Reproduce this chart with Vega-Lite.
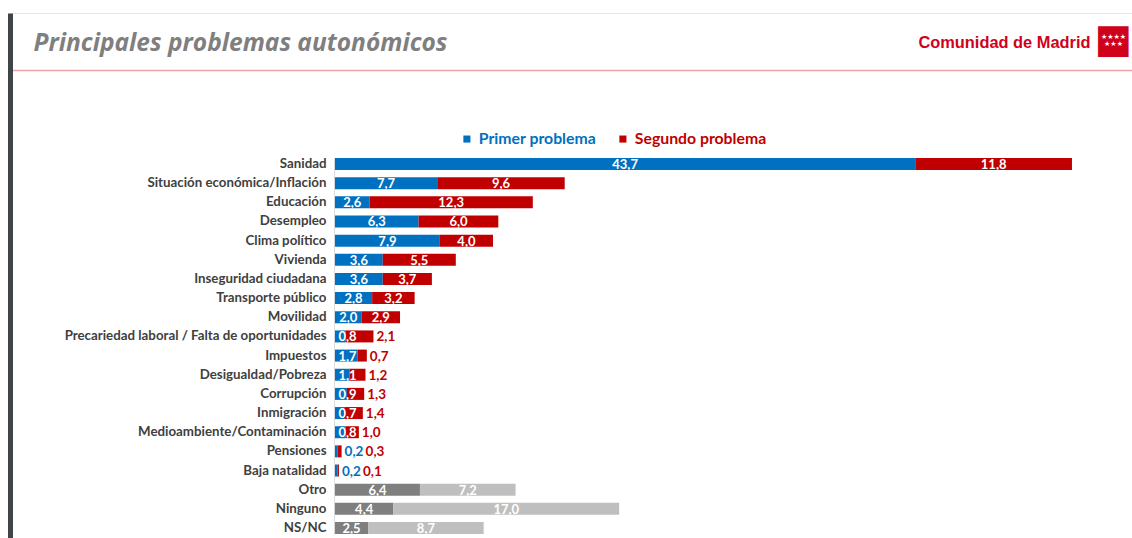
{
  "$schema": "https://vega.github.io/schema/vega-lite/v6.json",
  "width": 1122,
  "height": 525,
  "autosize": {"type": "none"},
  "padding": {"left": 10, "top": 13, "right": 0, "bottom": 0},
  "background": "white",
  "config": {
    "view": {"stroke": null},
    "font": "Lato",
    "axis": {"labels": false, "ticks": false, "grid": false, "domain": false},
    "locale": {"number": {"decimal": ",", "thousands": ".", "grouping": [3], "currency": ["", " €"]}}
  },
  "data": {
    "values": [
      {"cat": "Sanidad", "serie": "Primer problema", "value": 43.7},
      {"cat": "Sanidad", "serie": "Segundo problema", "value": 11.8},
      {"cat": "Situación económica/Inflación", "serie": "Primer problema", "value": 7.7},
      {"cat": "Situación económica/Inflación", "serie": "Segundo problema", "value": 9.6},
      {"cat": "Educación", "serie": "Primer problema", "value": 2.6},
      {"cat": "Educación", "serie": "Segundo problema", "value": 12.3},
      {"cat": "Desempleo", "serie": "Primer problema", "value": 6.3},
      {"cat": "Desempleo", "serie": "Segundo problema", "value": 6.0},
      {"cat": "Clima político", "serie": "Primer problema", "value": 7.9},
      {"cat": "Clima político", "serie": "Segundo problema", "value": 4.0},
      {"cat": "Vivienda", "serie": "Primer problema", "value": 3.6},
      {"cat": "Vivienda", "serie": "Segundo problema", "value": 5.5},
      {"cat": "Inseguridad ciudadana", "serie": "Primer problema", "value": 3.6},
      {"cat": "Inseguridad ciudadana", "serie": "Segundo problema", "value": 3.7},
      {"cat": "Transporte público", "serie": "Primer problema", "value": 2.8},
      {"cat": "Transporte público", "serie": "Segundo problema", "value": 3.2},
      {"cat": "Movilidad", "serie": "Primer problema", "value": 2.0},
      {"cat": "Movilidad", "serie": "Segundo problema", "value": 2.9},
      {"cat": "Precariedad laboral / Falta de oportunidades", "serie": "Primer problema", "value": 0.8},
      {"cat": "Precariedad laboral / Falta de oportunidades", "serie": "Segundo problema", "value": 2.1},
      {"cat": "Impuestos", "serie": "Primer problema", "value": 1.7},
      {"cat": "Impuestos", "serie": "Segundo problema", "value": 0.7},
      {"cat": "Desigualdad/Pobreza", "serie": "Primer problema", "value": 1.1},
      {"cat": "Desigualdad/Pobreza", "serie": "Segundo problema", "value": 1.2},
      {"cat": "Corrupción", "serie": "Primer problema", "value": 0.9},
      {"cat": "Corrupción", "serie": "Segundo problema", "value": 1.3},
      {"cat": "Inmigración", "serie": "Primer problema", "value": 0.7},
      {"cat": "Inmigración", "serie": "Segundo problema", "value": 1.4},
      {"cat": "Medioambiente/Contaminación", "serie": "Primer problema", "value": 0.8},
      {"cat": "Medioambiente/Contaminación", "serie": "Segundo problema", "value": 1.0},
      {"cat": "Pensiones", "serie": "Primer problema", "value": 0.2},
      {"cat": "Pensiones", "serie": "Segundo problema", "value": 0.3},
      {"cat": "Baja natalidad", "serie": "Primer problema", "value": 0.2},
      {"cat": "Baja natalidad", "serie": "Segundo problema", "value": 0.1},
      {"cat": "Otro", "serie": "Primer problema", "value": 6.4},
      {"cat": "Otro", "serie": "Segundo problema", "value": 7.2},
      {"cat": "Ninguno", "serie": "Primer problema", "value": 4.4},
      {"cat": "Ninguno", "serie": "Segundo problema", "value": 17.0},
      {"cat": "NS/NC", "serie": "Primer problema", "value": 2.5},
      {"cat": "NS/NC", "serie": "Segundo problema", "value": 8.7}
    ]
  },
  "resolve": {"scale": {"y": "independent"}, "axis": {"y": "independent"}},
  "layer": [
    {
      "layer": [
        {
          "mark": {"type": "bar"},
          "encoding": {
            "y": {
              "field": "cat", "type": "nominal",
              "sort": ["Sanidad", "Situación económica/Inflación", "Educación", "Desempleo", "Clima político", "Vivienda", "Inseguridad ciudadana", "Transporte público", "Movilidad", "Precariedad laboral / Falta de oportunidades", "Impuestos", "Desigualdad/Pobreza", "Corrupción", "Inmigración", "Medioambiente/Contaminación", "Pensiones", "Baja natalidad", "Otro", "Ninguno", "NS/NC"],
              "scale": {"paddingInner": 0.374, "paddingOuter": 0, "range": [145, 521]},
              "axis": {
                "orient": "left",
                "domain": false,
                "ticks": false, "tickSize": 0, "labels": true,
                "labelPadding": -316, "labelAlign": "right", "labelLimit": 500,
                "labelFont": "Lato", "labelFontWeight": "bold", "labelFontSize": 13.3, "labelColor": "#404040",
                "grid": false,
                "title": "■",
                "titleAngle": 0, "titleX": 1103, "titleY": 26, "titleAlign": "center", "titleBaseline": "middle",
                "titleFont": "DejaVu Sans", "titleFontSize": 40, "titleFontWeight": "normal", "titleColor": "#D0021B"
              }
            },
            "x": {
              "field": "value", "type": "quantitative", "stack": "zero",
              "scale": {"domain": [-24.47, 60.02], "nice": false, "zero": false},
              "axis": {
                "orient": "top", "offset": 0,
                "domain": true, "domainColor": "#E6E6E6", "domainWidth": 1,
                "ticks": false, "labels": false, "grid": false,
                "title": "Principales problemas autonómicos",
                "titleX": 23, "titleY": 37, "titleAlign": "left", "titleAnchor": null, "titleBaseline": "alphabetic",
                "titleFont": "Open Sans", "titleFontSize": 24.5, "titleFontWeight": "bold", "titleFontStyle": "italic", "titleColor": "#7F7F7F"
              }
            },
            "color": {
              "field": "serie", "type": "nominal",
              "scale": {"domain": ["Primer problema", "Segundo problema"], "range": ["#0070C0", "#C00000"]},
              "condition": [
                {"test": "indexof(['Otro','Ninguno','NS/NC'], datum.cat) >= 0 && datum.serie === 'Primer problema'", "value": "#7F7F7F"},
                {"test": "indexof(['Otro','Ninguno','NS/NC'], datum.cat) >= 0", "value": "#BFBFBF"}
              ],
              "legend": {
                "orient": "none", "legendX": 449, "legendY": 118, "direction": "horizontal",
                "title": null, "symbolType": "square", "symbolSize": 50, "symbolStrokeWidth": 0,
                "labelFont": "Lato", "labelFontSize": 15.8, "labelFontWeight": "bold",
                "columnPadding": 18, "padding": 0, "labelOffset": 4,
                "encode": {"labels": {"update": {"fill": {"signal": "datum.value === 'Primer problema' ? '#0070C0' : '#C00000'"}}}}
              }
            }
          }
        },
        {
          "transform": [
            {"stack": "value", "groupby": ["cat"], "sort": [{"field": "serie"}], "as": ["x0", "x1"]},
            {"filter": "datum.serie === 'Primer problema' ? datum.value >= 1.9 : datum.value >= 2.5"},
            {"fold": ["x0", "x1"], "as": ["k", "pos"]},
            {"aggregate": [{"op": "mean", "field": "pos", "as": "mid"}], "groupby": ["cat", "serie", "value"]}
          ],
          "mark": {"type": "text", "color": "white", "font": "Lato", "fontWeight": "bold", "fontSize": 13, "baseline": "middle", "align": "center", "dy": 1},
          "encoding": {
            "y": {"field": "cat", "type": "nominal", "axis": null, "sort": ["Sanidad", "Situación económica/Inflación", "Educación", "Desempleo", "Clima político", "Vivienda", "Inseguridad ciudadana", "Transporte público", "Movilidad", "Precariedad laboral / Falta de oportunidades", "Impuestos", "Desigualdad/Pobreza", "Corrupción", "Inmigración", "Medioambiente/Contaminación", "Pensiones", "Baja natalidad", "Otro", "Ninguno", "NS/NC"]},
            "x": {"field": "mid", "type": "quantitative", "axis": null},
            "text": {"field": "value", "type": "quantitative", "format": ".1f"}
          }
        },
        {
          "transform": [
            {"filter": "datum.serie === 'Primer problema' && datum.value >= 0.5 && datum.value < 1.9"}
          ],
          "mark": {"type": "text", "color": "white", "font": "Lato", "fontWeight": "bold", "fontSize": 13, "baseline": "middle", "align": "center", "dy": 1},
          "encoding": {
            "y": {"field": "cat", "type": "nominal", "axis": null, "sort": ["Sanidad", "Situación económica/Inflación", "Educación", "Desempleo", "Clima político", "Vivienda", "Inseguridad ciudadana", "Transporte público", "Movilidad", "Precariedad laboral / Falta de oportunidades", "Impuestos", "Desigualdad/Pobreza", "Corrupción", "Inmigración", "Medioambiente/Contaminación", "Pensiones", "Baja natalidad", "Otro", "Ninguno", "NS/NC"]},
            "x": {"datum": 0.95, "type": "quantitative", "axis": null},
            "text": {"field": "value", "type": "quantitative", "format": ".1f"}
          }
        },
        {
          "transform": [
            {"joinaggregate": [{"op": "sum", "field": "value", "as": "total"}], "groupby": ["cat"]},
            {"filter": "datum.serie === 'Primer problema' && datum.value < 0.5"}
          ],
          "mark": {"type": "text", "color": "#0070C0", "font": "Lato", "fontWeight": "bold", "fontSize": 13.5, "baseline": "middle", "align": "left", "dx": 3, "dy": 1},
          "encoding": {
            "y": {
              "field": "cat", "type": "nominal",
              "sort": ["Sanidad", "Situación económica/Inflación", "Educación", "Desempleo", "Clima político", "Vivienda", "Inseguridad ciudadana", "Transporte público", "Movilidad", "Precariedad laboral / Falta de oportunidades", "Impuestos", "Desigualdad/Pobreza", "Corrupción", "Inmigración", "Medioambiente/Contaminación", "Pensiones", "Baja natalidad", "Otro", "Ninguno", "NS/NC"],
              "axis": {
                "orient": "right", "offset": -798,
                "domain": true, "domainColor": "#DDDDDD", "domainWidth": 1,
                "ticks": false, "labels": false, "grid": false,
                "title": ["★★★★", "★★★"], "titleAngle": 0, "titleX": 779, "titleY": 23, "titleAlign": "center", "titleBaseline": "middle",
                "titleFont": "DejaVu Sans", "titleFontSize": 7, "titleLineHeight": 7, "titleFontWeight": "normal", "titleColor": "white"
              }
            },
            "x": {
              "field": "total", "type": "quantitative",
              "axis": {
                "orient": "bottom", "offset": -468,
                "domain": true, "domainColor": "#EBA3A3", "domainWidth": 1.5,
                "ticks": false, "labels": false, "grid": false,
                "title": "Comunidad de Madrid",
                "titleX": 1080, "titleY": -23, "titleAlign": "right", "titleAnchor": null, "titleBaseline": "alphabetic",
                "titleFont": "Liberation Sans", "titleFontSize": 16.4, "titleFontWeight": "bold", "titleColor": "#D0021B"
              }
            },
            "text": {"field": "value", "type": "quantitative", "format": ".1f"}
          }
        },
        {
          "transform": [
            {"joinaggregate": [{"op": "sum", "field": "value", "as": "total"}], "groupby": ["cat"]},
            {"filter": "datum.serie === 'Segundo problema' && datum.value < 2.5 && datum.total >= 1"}
          ],
          "mark": {"type": "text", "color": "#C00000", "font": "Lato", "fontWeight": "bold", "fontSize": 13.5, "baseline": "middle", "align": "left", "dx": 3, "dy": 1},
          "encoding": {
            "y": {"field": "cat", "type": "nominal", "axis": null, "sort": ["Sanidad", "Situación económica/Inflación", "Educación", "Desempleo", "Clima político", "Vivienda", "Inseguridad ciudadana", "Transporte público", "Movilidad", "Precariedad laboral / Falta de oportunidades", "Impuestos", "Desigualdad/Pobreza", "Corrupción", "Inmigración", "Medioambiente/Contaminación", "Pensiones", "Baja natalidad", "Otro", "Ninguno", "NS/NC"]},
            "x": {"field": "total", "type": "quantitative", "axis": null},
            "text": {"field": "value", "type": "quantitative", "format": ".1f"}
          }
        },
        {
          "transform": [
            {"joinaggregate": [{"op": "sum", "field": "value", "as": "total"}], "groupby": ["cat"]},
            {"filter": "datum.serie === 'Segundo problema' && datum.total < 1"}
          ],
          "mark": {"type": "text", "color": "#C00000", "font": "Lato", "fontWeight": "bold", "fontSize": 13.5, "baseline": "middle", "align": "left", "dx": 24, "dy": 1},
          "encoding": {
            "y": {"field": "cat", "type": "nominal", "axis": null, "sort": ["Sanidad", "Situación económica/Inflación", "Educación", "Desempleo", "Clima político", "Vivienda", "Inseguridad ciudadana", "Transporte público", "Movilidad", "Precariedad laboral / Falta de oportunidades", "Impuestos", "Desigualdad/Pobreza", "Corrupción", "Inmigración", "Medioambiente/Contaminación", "Pensiones", "Baja natalidad", "Otro", "Ninguno", "NS/NC"]},
            "x": {"field": "total", "type": "quantitative", "axis": null},
            "text": {"field": "value", "type": "quantitative", "format": ".1f"}
          }
        }
      ]
    },
    {
      "transform": [{"filter": "false"}],
      "mark": {"type": "text"},
      "encoding": {
        "y": {
          "field": "value", "type": "quantitative",
          "scale": {"domain": [0, 1], "nice": false},
          "axis": {"orient": "left", "domain": true, "domainColor": "#3F4448", "domainWidth": 5, "labels": false, "ticks": false, "grid": false, "title": null}
        },
        "x": {"field": "value", "type": "quantitative", "axis": null},
        "text": {"field": "value", "type": "quantitative"}
      }
    }
  ]
}
